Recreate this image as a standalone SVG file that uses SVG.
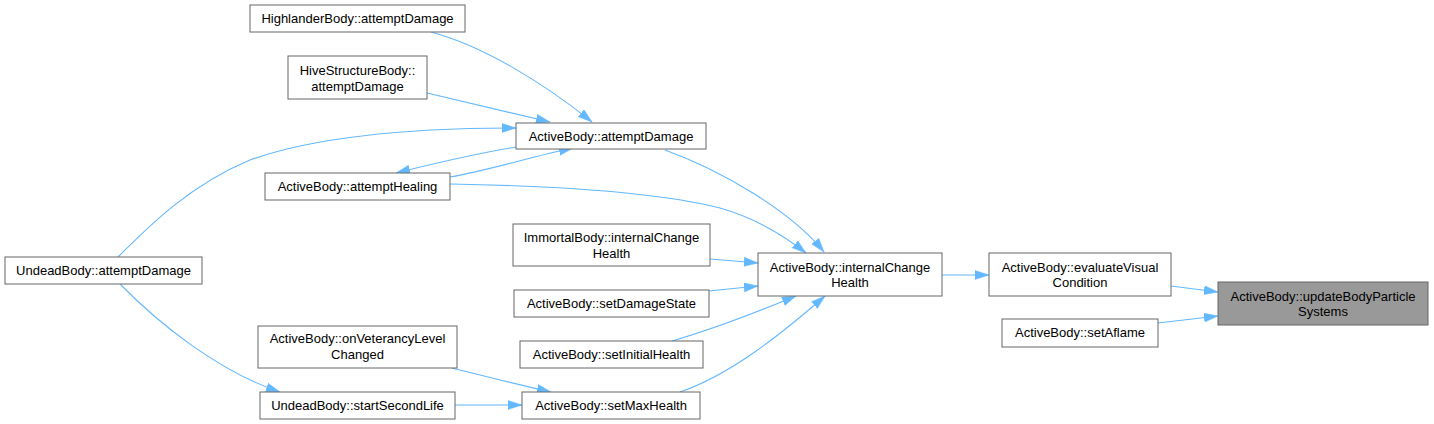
<svg xmlns="http://www.w3.org/2000/svg" width="1434" height="424" viewBox="0 0 1434 424">
<style>
.n rect{fill:#ffffff;stroke:#666666;stroke-width:1}
.n.h rect{fill:#999999}
.n text{font-family:"Liberation Sans",Arial,sans-serif;font-size:13px;fill:#000000;text-anchor:middle}
.e path{fill:none;stroke:#63b8ff;stroke-width:1.1;marker-end:url(#ah)}
</style>
<defs>
<marker id="ah" markerUnits="userSpaceOnUse" markerWidth="15" markerHeight="10" refX="14" refY="5" orient="auto">
<path d="M0,0.5 L14,5 L0,9.5 z" fill="#63b8ff" stroke="#63b8ff" stroke-width="0.5"/>
</marker>
</defs>
<rect width="1434" height="424" fill="#ffffff"/>
<g id="edges" class="e">
<path d="M431,32 C480,45 540,80 592,122"/>
<path d="M427,93 L550,122"/>
<path d="M118,257 C150,225 190,185 250,160 C320,135 420,128 516,128"/>
<path d="M516,147 C480,153 440,162 396,173"/>
<path d="M450,177 C490,170 530,157 573,148"/>
<path d="M450,184 C560,186 660,193 720,208 C755,218 782,234 806,253"/>
<path d="M665,150 C720,170 790,210 824,252"/>
<path d="M710,259 L758,263"/>
<path d="M709,291 L758,286"/>
<path d="M672,341 C710,330 750,315 796,296"/>
<path d="M680,392 C730,375 780,335 825,296"/>
<path d="M942,275 L989,275"/>
<path d="M1171,286 L1218,292"/>
<path d="M1158,323 L1218,316"/>
<path d="M452,368 C480,375 515,384 551,392"/>
<path d="M455,405 L522,405"/>
<path d="M120,284 C160,325 220,372 280,392"/>
</g>
<g id="highlander" class="n"><rect x="250" y="5" width="215" height="27"/><text x="357.5" y="23">HighlanderBody::attemptDamage</text></g>
<g id="hive" class="n"><rect x="288" y="56" width="139" height="43"/><text x="357.5" y="74.5">HiveStructureBody::</text><text x="357.5" y="90.5">attemptDamage</text></g>
<g id="attemptDamage" class="n"><rect x="516" y="123" width="190" height="26"/><text x="611" y="140.5">ActiveBody::attemptDamage</text></g>
<g id="attemptHealing" class="n"><rect x="265" y="173" width="185" height="27"/><text x="357.5" y="191">ActiveBody::attemptHealing</text></g>
<g id="undeadAttempt" class="n"><rect x="5" y="257" width="197" height="27"/><text x="103.5" y="275">UndeadBody::attemptDamage</text></g>
<g id="immortal" class="n"><rect x="513" y="224" width="197" height="42"/><text x="611.5" y="242">ImmortalBody::internalChange</text><text x="611.5" y="258">Health</text></g>
<g id="internalChange" class="n"><rect x="758" y="253" width="184" height="43"/><text x="850" y="271.5">ActiveBody::internalChange</text><text x="850" y="287">Health</text></g>
<g id="setDamageState" class="n"><rect x="514" y="290" width="195" height="27"/><text x="611.5" y="308">ActiveBody::setDamageState</text></g>
<g id="setInitialHealth" class="n"><rect x="520" y="341" width="183" height="27"/><text x="611.5" y="359">ActiveBody::setInitialHealth</text></g>
<g id="onVeterancy" class="n"><rect x="258" y="326" width="199" height="42"/><text x="357.5" y="342.5">ActiveBody::onVeterancyLevel</text><text x="357.5" y="358.5">Changed</text></g>
<g id="startSecondLife" class="n"><rect x="260" y="392" width="195" height="27"/><text x="357.5" y="410">UndeadBody::startSecondLife</text></g>
<g id="setMaxHealth" class="n"><rect x="522" y="392" width="178" height="27"/><text x="611" y="410">ActiveBody::setMaxHealth</text></g>
<g id="evaluateVisual" class="n"><rect x="989" y="253" width="182" height="43"/><text x="1080" y="271.5">ActiveBody::evaluateVisual</text><text x="1080" y="287">Condition</text></g>
<g id="updateBody" class="n h"><rect x="1218" y="282" width="210" height="43"/><text x="1323" y="300.5">ActiveBody::updateBodyParticle</text><text x="1323" y="315.5">Systems</text></g>
<g id="setAflame" class="n"><rect x="1002" y="319" width="156" height="28"/><text x="1080" y="337">ActiveBody::setAflame</text></g>
</svg>
